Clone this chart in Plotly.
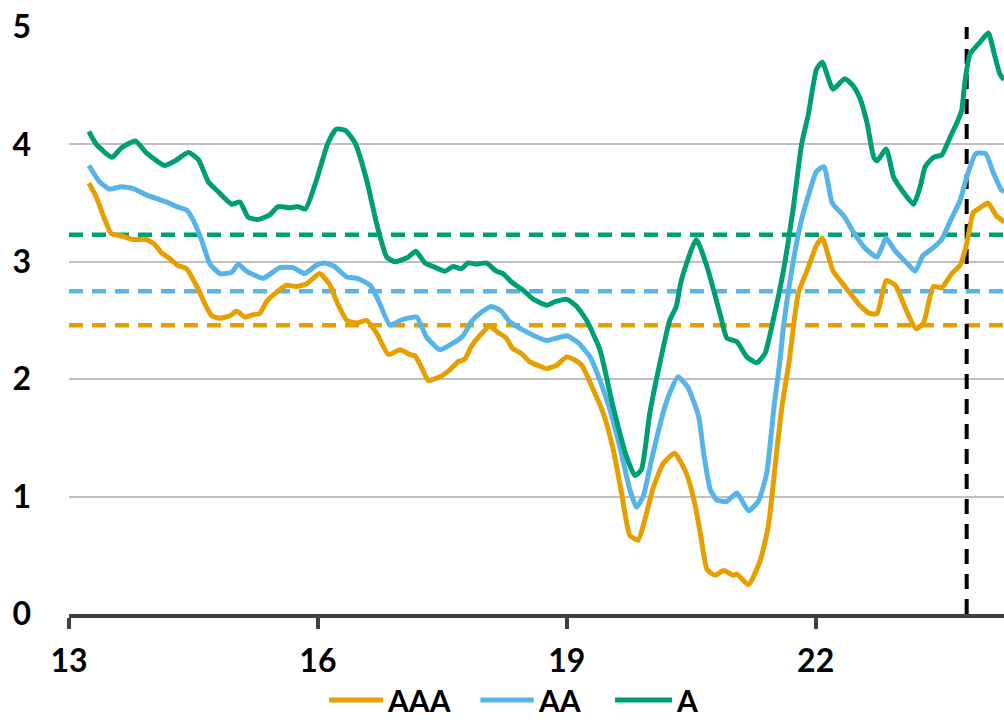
import plotly.graph_objects as go

# ---------------- data (years since 2000, spread in %) ----------------
AAA_X = [13.24, 13.33, 13.41, 13.51, 13.63, 13.77, 13.93, 14.03, 14.11, 14.21, 14.31, 14.42,
         14.54, 14.64, 14.72, 14.82, 14.94, 15.02, 15.12, 15.22, 15.30, 15.38, 15.50, 15.62,
         15.74, 15.86, 16.02, 16.14, 16.24, 16.35, 16.47, 16.59, 16.71, 16.85, 16.99, 17.11,
         17.17, 17.25, 17.33, 17.47, 17.59, 17.69, 17.77, 17.85, 17.95, 18.07, 18.17, 18.27,
         18.35, 18.45, 18.55, 18.68, 18.76, 18.88, 19.00, 19.08, 19.18, 19.32, 19.44, 19.56,
         19.66, 19.76, 19.86, 19.94, 20.04, 20.16, 20.30, 20.44, 20.54, 20.61, 20.69, 20.79,
         20.89, 21.01, 21.05, 21.19, 21.33, 21.43, 21.51, 21.59, 21.68, 21.79, 21.91, 22.01,
         22.08, 22.21, 22.33, 22.45, 22.53, 22.65, 22.74, 22.85, 22.96, 23.09, 23.21, 23.30,
         23.42, 23.52, 23.64, 23.74, 23.82, 23.90, 23.98, 24.08, 24.18, 24.27]
AAA_Y = [3.67, 3.55, 3.40, 3.24, 3.22, 3.19, 3.19, 3.15, 3.08, 3.03, 2.97, 2.94,
         2.79, 2.64, 2.54, 2.52, 2.54, 2.58, 2.53, 2.55, 2.56, 2.66, 2.74, 2.80,
         2.79, 2.81, 2.90, 2.81, 2.64, 2.50, 2.48, 2.50, 2.39, 2.21, 2.25, 2.21,
         2.20, 2.10, 1.99, 2.02, 2.08, 2.15, 2.17, 2.28, 2.37, 2.45, 2.40, 2.35,
         2.26, 2.22, 2.15, 2.11, 2.09, 2.12, 2.19, 2.17, 2.12, 1.91, 1.71, 1.40,
         1.03, 0.67, 0.63, 0.80, 1.07, 1.28, 1.37, 1.20, 0.95, 0.69, 0.38, 0.33,
         0.37, 0.33, 0.34, 0.25, 0.45, 0.75, 1.25, 1.75, 2.15, 2.73, 2.95, 3.14,
         3.20, 2.92, 2.81, 2.70, 2.63, 2.56, 2.56, 2.84, 2.80, 2.59, 2.43, 2.48,
         2.79, 2.78, 2.90, 2.97, 3.15, 3.42, 3.46, 3.50, 3.39, 3.34]

AA_X = [13.24, 13.37, 13.49, 13.63, 13.79, 13.93, 14.09, 14.17, 14.30, 14.42, 14.50, 14.60,
        14.70, 14.82, 14.96, 15.04, 15.14, 15.34, 15.54, 15.70, 15.84, 15.98, 16.08, 16.20,
        16.35, 16.47, 16.63, 16.73, 16.87, 16.99, 17.09, 17.19, 17.31, 17.47, 17.59, 17.75,
        17.85, 17.97, 18.09, 18.21, 18.31, 18.47, 18.64, 18.76, 18.88, 19.00, 19.14, 19.28,
        19.40, 19.52, 19.64, 19.76, 19.84, 19.92, 20.02, 20.16, 20.24, 20.34, 20.46, 20.59,
        20.65, 20.73, 20.81, 20.93, 21.05, 21.19, 21.31, 21.41, 21.50, 21.57, 21.61, 21.71,
        21.81, 21.91, 22.01, 22.10, 22.20, 22.34, 22.45, 22.59, 22.74, 22.85, 22.96, 23.10,
        23.20, 23.29, 23.40, 23.52, 23.63, 23.74, 23.82, 23.93, 24.05, 24.14, 24.24, 24.27]
AA_Y = [3.82, 3.68, 3.62, 3.64, 3.62, 3.57, 3.53, 3.51, 3.47, 3.44, 3.35, 3.18,
        2.98, 2.90, 2.91, 2.98, 2.92, 2.86, 2.95, 2.95, 2.90, 2.97, 2.99, 2.96,
        2.87, 2.86, 2.80, 2.67, 2.46, 2.50, 2.52, 2.53, 2.36, 2.25, 2.29, 2.37,
        2.49, 2.57, 2.62, 2.58, 2.49, 2.42, 2.36, 2.33, 2.35, 2.37, 2.31, 2.19,
        1.99, 1.74, 1.42, 1.06, 0.91, 1.00, 1.31, 1.71, 1.88, 2.02, 1.93, 1.68,
        1.37, 1.06, 0.97, 0.96, 1.03, 0.88, 0.96, 1.20, 1.78, 2.16, 2.44, 2.92,
        3.30, 3.56, 3.77, 3.81, 3.50, 3.39, 3.26, 3.12, 3.04, 3.20, 3.09, 2.99,
        2.92, 3.05, 3.11, 3.19, 3.36, 3.52, 3.72, 3.92, 3.92, 3.76, 3.61, 3.60]

A_X = [13.24, 13.33, 13.52, 13.63, 13.80, 13.93, 14.15, 14.28, 14.44, 14.56, 14.68, 14.78,
       14.96, 15.06, 15.16, 15.28, 15.42, 15.52, 15.66, 15.76, 15.85, 15.98, 16.12, 16.22,
       16.33, 16.45, 16.59, 16.71, 16.83, 16.93, 17.09, 17.18, 17.29, 17.39, 17.53, 17.63,
       17.73, 17.81, 17.91, 18.03, 18.15, 18.23, 18.33, 18.47, 18.60, 18.76, 18.86, 19.00,
       19.12, 19.24, 19.40, 19.56, 19.72, 19.82, 19.90, 20.00, 20.12, 20.24, 20.32, 20.38,
       20.56, 20.69, 20.85, 20.93, 21.05, 21.17, 21.29, 21.39, 21.49, 21.61, 21.73, 21.83,
       21.91, 22.01, 22.08, 22.21, 22.35, 22.45, 22.53, 22.62, 22.70, 22.74, 22.85, 22.94,
       23.04, 23.18, 23.26, 23.32, 23.42, 23.52, 23.62, 23.70, 23.76, 23.80, 23.86, 23.98,
       24.08, 24.15, 24.22, 24.27]
A_Y = [4.11, 4.00, 3.89, 3.97, 4.03, 3.93, 3.82, 3.86, 3.93, 3.87, 3.68, 3.61,
       3.49, 3.51, 3.38, 3.36, 3.40, 3.47, 3.46, 3.47, 3.45, 3.69, 4.01, 4.13,
       4.12, 4.01, 3.69, 3.32, 3.04, 3.00, 3.04, 3.09, 2.99, 2.96, 2.92, 2.96,
       2.94, 2.99, 2.98, 2.99, 2.92, 2.90, 2.83, 2.76, 2.68, 2.63, 2.66, 2.68,
       2.62, 2.50, 2.25, 1.76, 1.34, 1.18, 1.23, 1.71, 2.13, 2.50, 2.62, 2.84,
       3.19, 2.96, 2.55, 2.35, 2.32, 2.19, 2.14, 2.22, 2.51, 2.92, 3.46, 4.00,
       4.25, 4.64, 4.70, 4.47, 4.56, 4.50, 4.40, 4.18, 3.89, 3.86, 3.96, 3.72,
       3.61, 3.49, 3.64, 3.81, 3.89, 3.91, 4.06, 4.18, 4.29, 4.54, 4.77, 4.87,
       4.95, 4.78, 4.60, 4.55]

SERIES_NAMES = ["AAA", "AA", "A"]
AVERAGES = [2.46, 2.75, 3.23]          # long-run averages (dashed lines)
MARKER_YEAR = 23.82                    # vertical dashed line
X_RANGE = [13, 24.27]
Y_RANGE = [0, 5]
X_TICKS = [13, 16, 19, 22]
X_TICK_TEXT = ["13", "16", "19", "22"]
Y_TICKS = [0, 1, 2, 3, 4, 5]

COLORS = ["#E69F00", "#56B4E9", "#009E73"]
FONT = "Lato"

fig = go.Figure()

# dashed average lines
for avg, col in zip(AVERAGES, COLORS):
    fig.add_trace(go.Scatter(x=X_RANGE, y=[avg, avg], mode="lines",
                             line=dict(color=col, width=4.5, dash="14px,9px"),
                             showlegend=False, hoverinfo="skip"))

# vertical marker
fig.add_trace(go.Scatter(x=[MARKER_YEAR, MARKER_YEAR], y=Y_RANGE, mode="lines",
                         line=dict(color="black", width=4, dash="15px,10px"),
                         showlegend=False, hoverinfo="skip"))

for name, xs, ys, col in zip(SERIES_NAMES, [AAA_X, AA_X, A_X], [AAA_Y, AA_Y, A_Y], COLORS):
    fig.add_trace(go.Scatter(x=xs, y=ys, mode="lines", name=name,
                             line=dict(color=col, width=5, shape="spline", smoothing=0.5),
                             showlegend=False))

# custom legend (long line samples as in the original)
LEG_Y = -0.1465
legend_items = [(0.278, 0.336), (0.44, 0.497), (0.584, 0.645)]
for (x0, x1), name, col in zip(legend_items, SERIES_NAMES, COLORS):
    fig.add_shape(type="line", xref="paper", yref="paper", x0=x0, x1=x1,
                  y0=LEG_Y, y1=LEG_Y, line=dict(color=col, width=5))
    fig.add_annotation(xref="paper", yref="paper", x=x1 + 0.002, y=LEG_Y, text=name,
                       showarrow=False, xanchor="left", yanchor="middle",
                       font=dict(family=FONT, size=30, color="black", weight="bold"))

fig.update_layout(
    width=1004, height=723,
    margin=dict(l=69, r=0, t=27, b=109, autoexpand=False),
    paper_bgcolor="white", plot_bgcolor="white",
    showlegend=False,
)
fig.update_xaxes(range=X_RANGE, tickvals=X_TICKS, ticktext=X_TICK_TEXT,
                 showgrid=False, zeroline=False, automargin=False,
                 showline=True, linecolor="#404040", linewidth=4,
                 ticks="outside", tickcolor="#404040", tickwidth=4, ticklen=11,
                 ticklabelstandoff=5,
                 tickfont=dict(family=FONT, size=32, color="black", weight="bold"))
fig.update_yaxes(range=Y_RANGE, tickvals=Y_TICKS, showgrid=True, gridcolor="#C0C0C0",
                 gridwidth=2, zeroline=False, showline=False, ticks="", automargin=False,
                 ticklabelstandoff=37,
                 tickfont=dict(family=FONT, size=32, color="black", weight="bold"))

fig.write_html("out.html", config={"displayModeBar": False},
               post_script="document.body.style.margin='0';document.body.style.overflow='hidden';")
